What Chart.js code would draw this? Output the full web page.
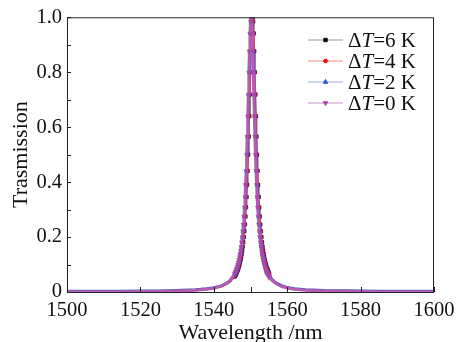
<!DOCTYPE html>
<html>
<head>
<meta charset="utf-8">
<title>Trasmission</title>
<script src="https://cdn.jsdelivr.net/npm/chart.js@4.4.1/dist/chart.umd.min.js"></script>
<style>
    html, body { margin: 0; padding: 0; background: #fff; }
    #wrap { width: 467px; height: 342px; }
</style>
</head>
<body>
<div id="wrap"><canvas id="spectrumChart" width="467" height="342"></canvas></div>
<script>
// Wavelength grid (nm)
const wavelengths = [
    1500, 1505, 1510, 1515, 1520, 1525, 1530, 1535, 1538, 1540, 1542, 1543.5, 1544.5,
    1545.65, 1545.80, 1545.95, 1546.10, 1546.25, 1546.40, 1546.55, 1546.70, 1546.85, 1547.00,
    1547.15, 1547.30, 1547.45, 1547.60, 1547.75, 1547.90, 1548.05, 1548.20, 1548.35, 1548.50,
    1548.65, 1548.80, 1548.95, 1549.10, 1549.25, 1549.40, 1549.55, 1549.70, 1549.85, 1550.00,
    1550.15, 1550.30, 1550.45, 1550.60, 1550.75, 1550.90, 1551.05, 1551.20, 1551.35, 1551.50,
    1551.65, 1551.80, 1551.95, 1552.10, 1552.25, 1552.40, 1552.55, 1552.70, 1552.85, 1553.00,
    1553.15, 1553.30, 1553.45, 1553.60, 1553.75, 1553.90, 1554.05, 1554.20, 1554.35, 1554.50,
    1554.65, 1554.80, 1554.95, 1555.10,
    1556, 1557, 1558.5, 1560, 1562, 1565, 1570, 1575, 1580, 1585, 1590, 1595, 1600
];

// Transmission for each temperature change
const trans6K = [
    0.0006, 0.0007, 0.0009, 0.0011, 0.0016, 0.0022, 0.0034, 0.0059, 0.0093, 0.0126, 0.0190, 0.0278, 0.037,
    0.056, 0.059, 0.062, 0.066, 0.071, 0.075, 0.081, 0.086, 0.093, 0.100, 0.108, 0.117, 0.127, 0.138,
    0.151, 0.165, 0.181, 0.200, 0.221, 0.246, 0.275, 0.308, 0.346, 0.390, 0.441, 0.500, 0.566, 0.640,
    0.719, 0.800, 0.877, 0.941, 0.985, 1.000,
    0.985, 0.941, 0.877, 0.800, 0.719, 0.640, 0.566, 0.500, 0.441, 0.390, 0.346, 0.308, 0.275, 0.246,
    0.221, 0.200, 0.181, 0.165, 0.151, 0.138, 0.127, 0.117, 0.108, 0.100, 0.093, 0.086, 0.081, 0.075,
    0.071, 0.066,
    0.047, 0.034, 0.023, 0.016, 0.011, 0.0069, 0.0038, 0.0023, 0.0016, 0.0012, 0.0009, 0.0007, 0.0006
];
const trans4K = [
    0.0006, 0.0007, 0.0009, 0.0011, 0.0016, 0.0022, 0.0034, 0.0060, 0.0095, 0.0130, 0.0197, 0.0290, 0.039,
    0.059, 0.062, 0.066, 0.071, 0.075, 0.081, 0.086, 0.093, 0.100, 0.108, 0.117, 0.127, 0.138,
    0.151, 0.165, 0.181, 0.200, 0.221, 0.246, 0.275, 0.308, 0.346, 0.390, 0.441, 0.500, 0.566, 0.640,
    0.719, 0.800, 0.877, 0.941, 0.985, 1.000,
    0.985, 0.941, 0.877, 0.800, 0.719, 0.640, 0.566, 0.500, 0.441, 0.390, 0.346, 0.308, 0.275, 0.246,
    0.221, 0.200, 0.181, 0.165, 0.151, 0.138, 0.127, 0.117, 0.108, 0.100, 0.093, 0.086, 0.081, 0.075,
    0.071, 0.066, 0.062,
    0.045, 0.032, 0.022, 0.0155, 0.0107, 0.0068, 0.0037, 0.0023, 0.0016, 0.0012, 0.0009, 0.0007, 0.0006
];
const trans2K = [
    0.0046, 0.0047, 0.0049, 0.0051, 0.0056, 0.0062, 0.0075, 0.0101, 0.0138, 0.0174, 0.0244, 0.0342, 0.045,
    0.062, 0.066, 0.071, 0.075, 0.081, 0.086, 0.093, 0.100, 0.108, 0.117, 0.127, 0.138,
    0.151, 0.165, 0.181, 0.200, 0.221, 0.246, 0.275, 0.308, 0.346, 0.390, 0.441, 0.500, 0.566, 0.640,
    0.719, 0.800, 0.877, 0.941, 0.985, 1.000,
    0.985, 0.941, 0.877, 0.800, 0.719, 0.640, 0.566, 0.500, 0.441, 0.390, 0.346, 0.308, 0.275, 0.246,
    0.221, 0.200, 0.181, 0.165, 0.151, 0.138, 0.127, 0.117, 0.108, 0.100, 0.093, 0.086, 0.081, 0.075,
    0.071, 0.066, 0.062, 0.059,
    0.046, 0.035, 0.025, 0.019, 0.0144, 0.0106, 0.0077, 0.0063, 0.0056, 0.0052, 0.0049, 0.0047, 0.0046
];
const trans0K = [
    0.0006, 0.0007, 0.0009, 0.0011, 0.0016, 0.0022, 0.0035, 0.0062, 0.0100, 0.0138, 0.0212, 0.0315, 0.043,
    0.066, 0.071, 0.075, 0.081, 0.086, 0.093, 0.100, 0.108, 0.117, 0.127, 0.138,
    0.151, 0.165, 0.181, 0.200, 0.221, 0.246, 0.275, 0.308, 0.346, 0.390, 0.441, 0.500, 0.566, 0.640,
    0.719, 0.800, 0.877, 0.941, 0.985, 1.000,
    0.985, 0.941, 0.877, 0.800, 0.719, 0.640, 0.566, 0.500, 0.441, 0.390, 0.346, 0.308, 0.275, 0.246,
    0.221, 0.200, 0.181, 0.165, 0.151, 0.138, 0.127, 0.117, 0.108, 0.100, 0.093, 0.086, 0.081, 0.075,
    0.071, 0.066, 0.062, 0.059, 0.056,
    0.040, 0.030, 0.020, 0.0146, 0.0102, 0.0065, 0.0036, 0.0023, 0.0016, 0.0012, 0.0009, 0.0007, 0.0006
];

// Axis ticks and legend labels
const xTickValues = [1500, 1520, 1540, 1560, 1580, 1600];
const xMinorTicks = [1550];
const yTickValues = [0, 0.2, 0.4, 0.6, 0.8, 1.0];
const yMinorTicks = [0.1, 0.3, 0.5, 0.7, 0.9];
const deltaLabels = ['6 K', '4 K', '2 K', '0 K'];

const SERIF = '"Liberation Serif", "Times New Roman", serif';

document.addEventListener('DOMContentLoaded', function() {
    const ctxEl = document.getElementById('spectrumChart');

    function toPoints(values) {
        return wavelengths.map(function(w, i) {
            return { x: w, y: values[i] };
        });
    }

    // markers only on the densely sampled resonance; the wings read as a solid band
    function markerRadius(r) {
        return function(c) {
            const x = c.raw ? c.raw.x : 0;
            return (x < 1545.6 || x > 1555.2) ? 0 : r;
        };
    }

    // Frame, inner ticks and the line+marker legend
    const framePlugin = {
        id: 'framePlugin',
        afterDraw: function(chart) {
            const ctx = chart.ctx;
            const area = chart.chartArea;
            const xs = chart.scales.x;
            const ys = chart.scales.y;
            ctx.save();
            ctx.strokeStyle = '#222';
            ctx.lineWidth = 1;
            ctx.strokeRect(area.left + 0.5, area.top + 0.5, area.right - area.left - 1, area.bottom - area.top);

            ctx.beginPath();
            xTickValues.concat(xMinorTicks).forEach(function(v) {
                const px = Math.round(xs.getPixelForValue(v)) + 0.5;
                ctx.moveTo(px, area.bottom);
                ctx.lineTo(px, area.bottom - 5);
            });
            yTickValues.concat(yMinorTicks).forEach(function(v) {
                const py = Math.round(ys.getPixelForValue(v)) + 0.5;
                ctx.moveTo(area.left, py);
                ctx.lineTo(area.left + 4, py);
            });
            ctx.stroke();

            // Legend
            const legendX = 308;
            const legendY = 40;
            const rowGap = 21;
            chart.data.datasets.forEach(function(ds, i) {
                const y = legendY + i * rowGap;
                ctx.strokeStyle = ds.legendLine;
                ctx.lineWidth = 1;
                ctx.beginPath();
                ctx.moveTo(legendX, y);
                ctx.lineTo(legendX + 35, y);
                ctx.stroke();
                ctx.fillStyle = ds.pointBackgroundColor;
                ctx.strokeStyle = ds.pointBorderColor;
                Chart.helpers.drawPoint(ctx, {
                    pointStyle: ds.pointStyle,
                    rotation: ds.pointRotation || 0,
                    radius: ds.legendRadius,
                    borderWidth: 0.5
                }, legendX + 17.5, y);

                let tx = legendX + 40;
                ctx.fillStyle = '#111';
                ctx.textBaseline = 'middle';
                ctx.textAlign = 'left';
                ctx.font = '21px ' + SERIF;
                ctx.fillText('\u0394', tx, y + 1);
                tx += ctx.measureText('\u0394').width;
                ctx.font = 'italic 21px ' + SERIF;
                ctx.fillText('T', tx, y + 1);
                tx += ctx.measureText('T').width;
                ctx.font = '21px ' + SERIF;
                ctx.fillText('=' + deltaLabels[i], tx, y + 1);
            });
            ctx.restore();
        }
    };

    new Chart(ctxEl, {
        type: 'line',
        data: {
            datasets: [
                {
                    label: '\u0394T=' + deltaLabels[0],
                    data: toPoints(trans6K),
                    borderColor: '#4a4a4a',
                    legendLine: '#9a9a9a',
                    borderWidth: 1.5,
                    pointStyle: 'rect',
                    pointRadius: markerRadius(2.4),
                    legendRadius: 2.4,
                    pointBackgroundColor: '#000',
                    pointBorderColor: '#000',
                    pointBorderWidth: 0.5,
                    order: 3
                },
                {
                    label: '\u0394T=' + deltaLabels[1],
                    data: toPoints(trans4K),
                    borderColor: '#e84a4a',
                    legendLine: '#f08a80',
                    borderWidth: 1.5,
                    pointStyle: 'circle',
                    pointRadius: markerRadius(1.9),
                    legendRadius: 1.9,
                    pointBackgroundColor: '#f01010',
                    pointBorderColor: '#f01010',
                    pointBorderWidth: 0.5,
                    order: 2
                },
                {
                    label: '\u0394T=' + deltaLabels[2],
                    data: toPoints(trans2K),
                    borderColor: '#3656b8',
                    legendLine: '#9aaee2',
                    borderWidth: 1.8,
                    pointStyle: 'triangle',
                    pointRadius: markerRadius(2.6),
                    legendRadius: 2.6,
                    pointBackgroundColor: '#2f55c8',
                    pointBorderColor: '#2f55c8',
                    pointBorderWidth: 0.5,
                    order: 1
                },
                {
                    label: '\u0394T=' + deltaLabels[3],
                    data: toPoints(trans0K),
                    borderColor: '#b45cb4',
                    legendLine: '#c890c8',
                    borderWidth: 3,
                    pointStyle: 'triangle',
                    pointRotation: 180,
                    pointRadius: markerRadius(2.6),
                    legendRadius: 2.6,
                    pointBackgroundColor: '#a64aa8',
                    pointBorderColor: '#a64aa8',
                    pointBorderWidth: 0.5,
                    order: 0
                }
            ]
        },
        options: {
            responsive: false,
            animation: false,
            layout: { padding: { left: 0, right: 33, top: 17, bottom: 0 } },
            plugins: {
                legend: { display: false },
                tooltip: { enabled: false }
            },
            elements: { line: { tension: 0 } },
            scales: {
                x: {
                    type: 'linear',
                    min: 1500,
                    max: 1600,
                    grid: { display: false, drawTicks: false },
                    border: { display: false },
                    afterBuildTicks: function(scale) {
                        scale.ticks = xTickValues.map(function(v) { return { value: v }; });
                    },
                    afterFit: function(scale) { scale.height = 50; },
                    ticks: {
                        padding: 6,
                        maxRotation: 0,
                        color: '#111',
                        font: { family: SERIF, size: 20.5 },
                        callback: function(v) { return String(v); }
                    },
                    title: {
                        display: true,
                        text: 'Wavelength /nm',
                        color: '#111',
                        font: { family: SERIF, size: 22, lineHeight: 1 },
                        padding: { top: 0, bottom: -2 }
                    }
                },
                y: {
                    min: 0,
                    max: 1.0,
                    grid: { display: false, drawTicks: false },
                    border: { display: false },
                    afterBuildTicks: function(scale) {
                        scale.ticks = yTickValues.map(function(v) { return { value: v }; });
                    },
                    afterFit: function(scale) { scale.width = 67; },
                    ticks: {
                        padding: 5,
                        color: '#111',
                        font: { family: SERIF, size: 20.5 },
                        callback: function(v) { return v === 0 ? '0' : v.toFixed(1); }
                    },
                    title: {
                        display: true,
                        text: 'Trasmission',
                        color: '#111',
                        font: { family: SERIF, size: 22, lineHeight: 1 },
                        padding: { top: 10, bottom: 0 }
                    }
                }
            }
        },
        plugins: [framePlugin]
    });
});
</script>
</body>
</html>
